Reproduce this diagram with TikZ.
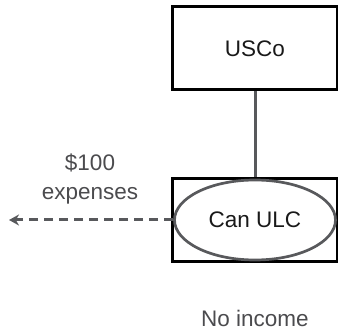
\documentclass[tikz,border=0pt]{standalone}
\usepackage{fontspec}
\setmainfont{Liberation Sans}
\usepackage{tikz}
\usetikzlibrary{shapes.geometric, arrows.meta, positioning}
\definecolor{ulcgray}{RGB}{88,89,92}
\definecolor{lblgray}{RGB}{75,75,78}
\definecolor{txtdark}{RGB}{25,25,25}

\begin{document}
\begin{tikzpicture}[x=1pt, y=-1pt, font=\fontsize{22.5}{29}\selectfont,
  entbox/.style={draw=black, line width=3pt, minimum width=165pt, minimum height=83pt, text=txtdark},
  ulcshape/.style={ellipse, draw=ulcgray, line width=2.7pt, fill=white, minimum width=161pt, minimum height=80pt, inner sep=0pt, text=txtdark},
  ownline/.style={draw=ulcgray, line width=3pt},
  flowline/.style={draw=ulcgray, line width=3pt, dash pattern=on 9pt off 6pt, -{Stealth[length=10pt, width=11pt]}},
  lbl/.style={text=lblgray, align=center, inner sep=0pt}]
\useasboundingbox (0,0) rectangle (338,334);
\def\bx{255}
\node[entbox] (usco) at (\bx,48.5) {USCo};
\node[entbox] (ulcbox) at (\bx,220.5) {};
\node[ulcshape] (ulc) at (\bx,220) {Can ULC};
\coordinate (out) at (9,220);
\draw[ownline] (usco.south) -- (ulcbox.north);
\draw[flowline] (ulc.west) -- (out);
\node[lbl] (exp) at (90,179) {\$100\\expenses};
\node[lbl] (inc) at (\bx,318) {No income};
\end{tikzpicture}
\end{document}
